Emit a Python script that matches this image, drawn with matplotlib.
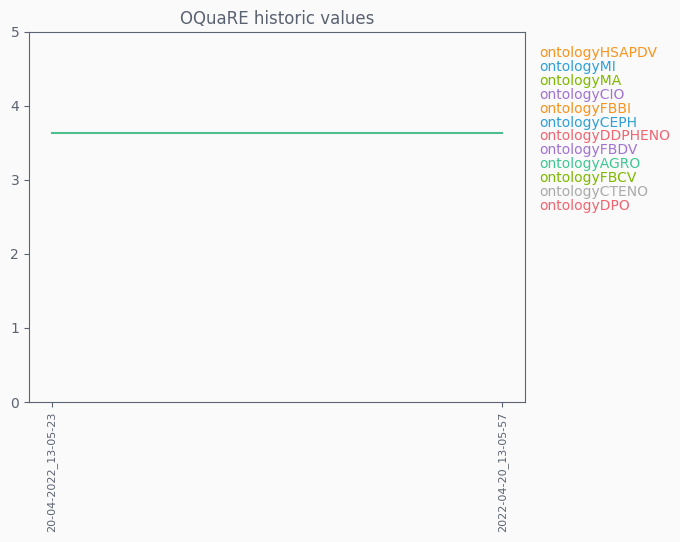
import matplotlib
matplotlib.use("Agg")
import matplotlib.pyplot as plt

dates = ["20-04-2022_13-05-23", "2022-04-20_13-05-57"]
ontologies = ["ontologyHSAPDV", "ontologyMI", "ontologyMA", "ontologyCIO",
              "ontologyFBBI", "ontologyCEPH", "ontologyDDPHENO", "ontologyFBDV",
              "ontologyAGRO", "ontologyFBCV", "ontologyCTENO", "ontologyDPO"]
colors = ["#f7941d", "#2e9fd8", "#7fb800", "#a173d1",
          "#f7941d", "#2e9fd8", "#f06470", "#a173d1",
          "#40c793", "#7fb800", "#aaaaaa", "#f06470"]
# only AGRO has a visible history in the chart
agro_values = [3.64, 3.64]

bg = "#fafafa"
fg = "#5a6270"

fig = plt.figure(figsize=(6.8, 5.42), dpi=100, facecolor=bg)
ax = fig.add_axes([0.0426, 0.2583, 0.7294, 0.6827], facecolor=bg)

x = list(range(len(dates)))
ax.plot(x, agro_values, color="#4cbf8f", linewidth=1.5)

ax.set_ylim(0, 5)
ax.set_yticks([0, 1, 2, 3, 4, 5])
ax.set_xticks(x)
ax.set_xticklabels(dates, rotation=90, fontsize=8, color=fg)
ax.tick_params(axis="y", labelsize=10, colors=fg)
ax.tick_params(axis="x", colors=fg)
for s in ax.spines.values():
    s.set_color("#5a6474")
ax.set_title("OQuaRE historic values", fontsize=12, color=fg, pad=6)

# text-only legend on the right
for i, (name, c) in enumerate(zip(ontologies, colors)):
    fig.text(539 / 680, 1 - (53 + i * 13.9) / 542, name, color=c,
             fontsize=10, va="center", ha="left")

fig.savefig("out.png", dpi=100, facecolor=bg)
